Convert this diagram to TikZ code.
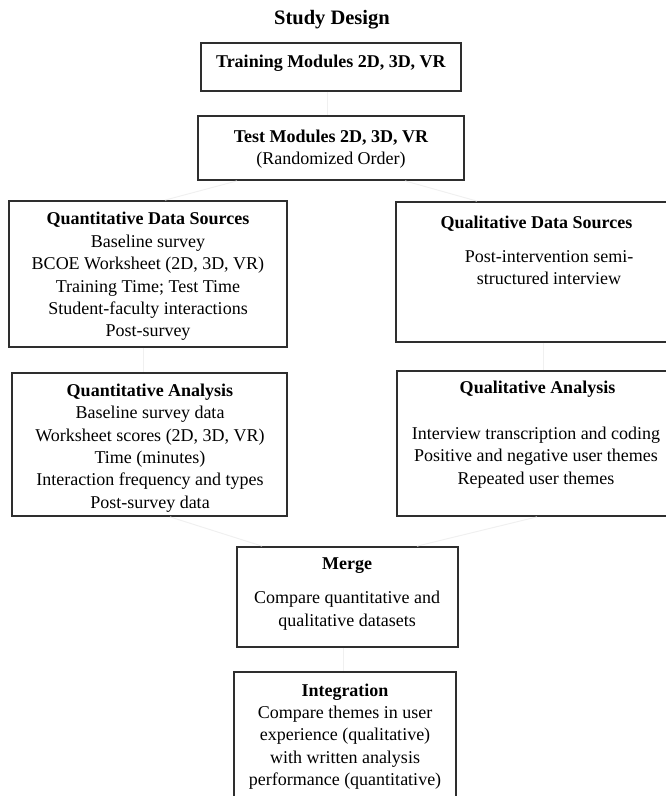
\documentclass[tikz,border=0pt]{standalone}
\usepackage{fontspec}
\setmainfont{Liberation Serif}
\begin{document}
\begin{tikzpicture}[x=1pt,y=-1pt,
  box/.style={draw=black!82, line width=1.8pt, inner sep=0pt},
  txt/.style={align=center, inner sep=0pt, font=\fontsize{18}{22.4}\selectfont},
  link/.style={draw=black!6, line width=1pt}]
\useasboundingbox (0,0) rectangle (666,796);

% title
\node[inner sep=0pt, font=\fontsize{20.5}{24}\selectfont\bfseries] (title) at (332,19.5) {Study Design};

% frames
\node[box, minimum width=260pt, minimum height=48pt]  (train) at (331,67) {};
\node[box, minimum width=266pt, minimum height=64pt]  (test)  at (331,148) {};
\node[box, minimum width=278pt, minimum height=146pt] (qnds)  at (148,274) {};
\node[box, minimum width=272pt, minimum height=140pt] (qlds)  at (532,272) {};
\node[box, minimum width=275pt, minimum height=143pt] (qnan)  at (149.5,444.5) {};
\node[box, minimum width=271pt, minimum height=145pt] (qlan)  at (532.5,443.5) {};
\node[box, minimum width=221pt, minimum height=100pt] (merge) at (347.5,597) {};
\node[box, minimum width=222pt, minimum height=128pt] (integ) at (345,736) {};

% texts
\node[txt] (ttrain) at (331,63.5) {\textbf{Training Modules 2D, 3D, VR}};
\node[txt] (ttest) at (331,149) {\textbf{Test Modules 2D, 3D, VR}\\(Randomized Order)};
\node[txt] (tqnds) at (148,276.5) {\textbf{Quantitative Data Sources}\\Baseline survey\\BCOE Worksheet (2D, 3D, VR)\\Training Time; Test Time\\Student-faculty interactions\\Post-survey};
\node[txt] (tqldsh) at (536.5,223.5) {\textbf{Qualitative Data Sources}};
\node[txt] (tqldsb) at (549,267.5) {Post-intervention semi-\\structured interview};
\node[txt] (tqnan) at (150,448) {\textbf{Quantitative Analysis}\\Baseline survey data\\Worksheet scores (2D, 3D, VR)\\Time (minutes)\\Interaction frequency and types\\Post-survey data};
\node[txt] (tqlanh) at (537.5,389.5) {\textbf{Qualitative Analysis}};
\node[txt] (tqlanb) at (536,457.5) {Interview transcription and coding\\Positive and negative user themes\\Repeated user themes};
\node[txt] (tmergeh) at (347,565.5) {\textbf{Merge}};
\node[txt] (tmergeb) at (347,610.5) {Compare quantitative and\\qualitative datasets};
\node[txt] (tinteg) at (345,736.5) {\textbf{Integration}\\Compare themes in user\\experience (qualitative)\\with written analysis\\performance (quantitative)};

% faint connectors
\draw[link] ([xshift=-4pt]train.south) -- ([xshift=-4pt]test.north);
\draw[link] ([xshift=-94pt]test.south) -- ([xshift=17pt]qnds.north);
\draw[link] ([xshift=74pt]test.south) -- ([xshift=-55pt]qlds.north);
\draw[link] ([xshift=-5pt]qnds.south) -- ([xshift=-6.5pt]qnan.north);
\draw[link] ([xshift=11pt]qlds.south) -- ([xshift=10.5pt]qlan.north);
\draw[link] ([xshift=20.5pt]qnan.south) -- ([xshift=-85.5pt]merge.north);
\draw[link] ([xshift=4.5pt]qlan.south) -- ([xshift=69.5pt]merge.north);
\draw[link] ([xshift=-4.5pt]merge.south) -- ([xshift=-2pt]integ.north);
\end{tikzpicture}
\end{document}
